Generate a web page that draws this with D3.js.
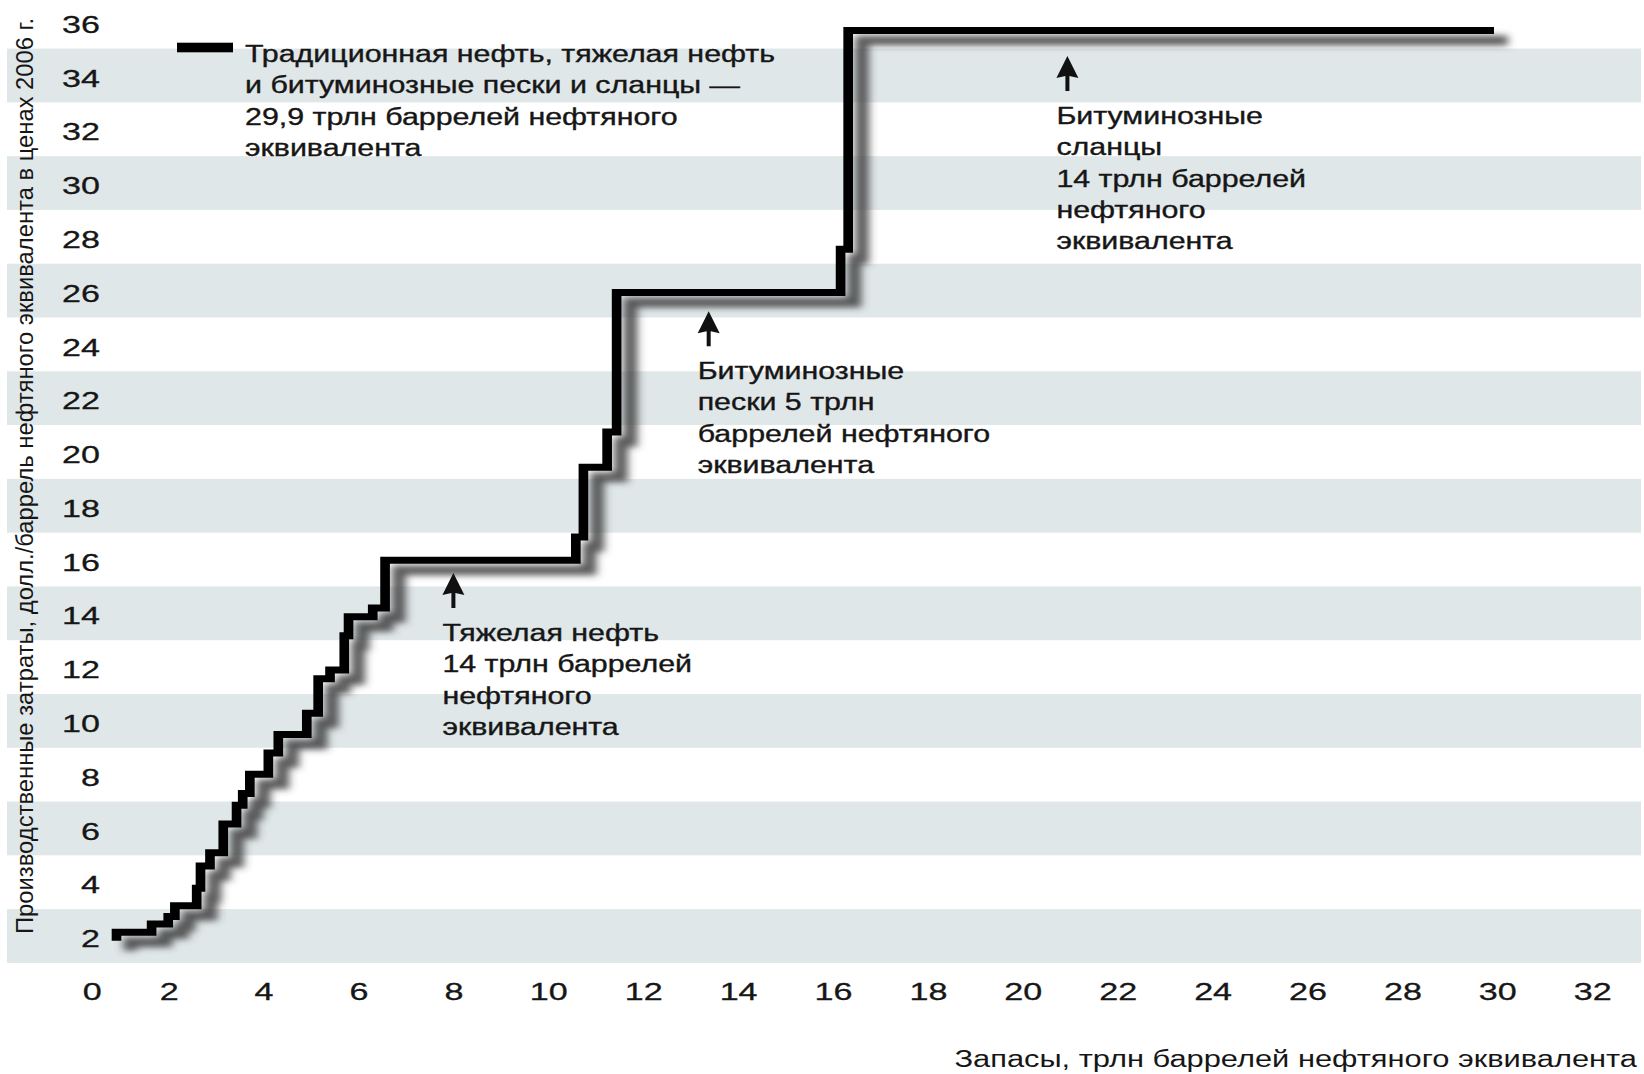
<!DOCTYPE html>
<html><head><meta charset="utf-8">
<script src="https://cdn.jsdelivr.net/npm/d3@7"></script>
<style>
html,body{margin:0;padding:0;background:#fff;}
svg{display:block;}
text{font-family:"Liberation Sans", Arial, Helvetica, sans-serif; fill:#161616;}
</style></head><body>
<svg id="chart" width="1644" height="1074"></svg>
<script>
// ---------- data ----------
const reserves = [0.90,0.90,1.64,1.99,2.13,2.59,2.67,2.87,3.15,3.43,3.56,3.71,4.10,4.31,4.91,5.15,5.40,5.70,5.79,6.30,6.56,10.58,10.74,11.24,11.44,16.16,16.32,29.93];
const costs    = [1.90,2.21,2.52,2.80,3.20,3.85,4.68,5.17,6.24,6.94,7.37,8.09,8.88,9.57,10.36,11.64,11.97,13.24,13.95,14.27,16.05,16.91,19.51,20.82,26.00,27.61,35.75,35.75];
const xTicks = [0,2,4,6,8,10,12,14,16,18,20,22,24,26,28,30,32];
const yTicks = [2,4,6,8,10,12,14,16,18,20,22,24,26,28,30,32,34,36];
const bandCenters = [2,6,10,14,18,22,26,30,34];
const legendLines = ["Традиционная нефть, тяжелая нефть","и битуминозные пески и сланцы —","29,9 трлн баррелей нефтяного","эквивалента"];
const annoText = [
  ["Тяжелая нефть","14 трлн баррелей","нефтяного","эквивалента"],
  ["Битуминозные","пески 5 трлн","баррелей нефтяного","эквивалента"],
  ["Битуминозные","сланцы","14 трлн баррелей","нефтяного","эквивалента"]
];
const annoX = [8.0, 13.38, 20.94];
const annoY = [15.57, 25.31, 34.8];
const xTitle = "Запасы, трлн баррелей нефтяного эквивалента";
const yTitle = "Производственные затраты, долл./баррель нефтяного эквивалента в ценах 2006 г.";

// ---------- setup ----------
const SX = 1.38;      // horizontal stretch of the artwork (line)
const SX_TEXT = 1.32; // stretch of text lines
const SX_TICK = 1.42; // stretch of tick numbers
const svg = d3.select("#chart");
const x = d3.scaleLinear().domain([0,32]).range([73.8,1592.2]);
const y = d3.scaleLinear().domain([0,36]).range([991.8,23.7]);

function stretchBy(k){
  return sel => sel.each(function(){
    const w = this.getComputedTextLength();
    d3.select(this).attr("textLength", w*k).attr("lengthAdjust","spacingAndGlyphs");
  });
}

// bands
svg.append("g").selectAll("rect").data(bandCenters).join("rect")
  .attr("x",7).attr("width",1634)
  .attr("y",d=>y(d+1)-2).attr("height",d=>y(d-1)-y(d+1))
  .attr("fill","#e0e7e9");

// y axis
const gy = svg.append("g").attr("transform","translate(100,0)")
  .call(d3.axisLeft(y).tickValues(yTicks).tickSize(0).tickPadding(0));
gy.select(".domain").remove();
gy.selectAll("text").attr("font-size",24).attr("font-family",null).attr("fill","#161616")
  .attr("stroke","#161616").attr("stroke-width",0.3).attr("dy","0.36em").call(stretchBy(SX_TICK));

// x axis
const gx = svg.append("g").attr("transform",`translate(0,${y(0)})`)
  .call(d3.axisBottom(x).tickValues(xTicks).tickSize(0).tickPadding(0));
gx.select(".domain").remove();
gx.selectAll("text").attr("font-size",24).attr("font-family",null).attr("fill","#161616")
  .attr("stroke","#161616").attr("stroke-width",0.3).attr("dy","0.36em")
  .attr("dx",d=>d===0?18:0).call(stretchBy(SX_TICK));

// titles
svg.append("text").attr("transform","translate(33,476) rotate(-90)")
  .attr("text-anchor","middle").attr("font-size",23)
  .attr("textLength",916).attr("lengthAdjust","spacingAndGlyphs").text(yTitle);
svg.append("text").attr("x",1637).attr("y",1067).attr("text-anchor","end")
  .attr("font-size",23).text(xTitle).call(stretchBy(1.34));

// shadow filter
const defs = svg.append("defs");
const f = defs.append("filter").attr("id","blur")
  .attr("x","-5%").attr("y","-5%").attr("width","110%").attr("height","110%");
f.append("feGaussianBlur").attr("stdDeviation",3.2);

// step line
const pts = reserves.map((r,i)=>[r,costs[i]]);
const line = d3.line().x(d=>x(d[0])/SX).y(d=>y(d[1])).curve(d3.curveStepAfter);
const gl = svg.append("g").attr("transform",`scale(${SX},1)`);
gl.append("path").attr("d",line(pts)).attr("transform","translate(10,10)")
  .attr("fill","none").attr("stroke","#404040").attr("stroke-opacity",0.85)
  .attr("stroke-width",10).attr("filter","url(#blur)");
gl.append("path").attr("d",line(pts))
  .attr("fill","none").attr("stroke","#000").attr("stroke-width",7)
  .attr("stroke-linejoin","miter");

// legend
svg.append("rect").attr("x",177).attr("y",42.7).attr("width",56).attr("height",9.6).attr("fill","#000");
svg.append("g").selectAll("text").data(legendLines).join("text")
  .attr("x",245).attr("y",(d,i)=>62+i*31.3).attr("font-size",23)
  .attr("stroke","#161616").attr("stroke-width",0.35)
  .text(d=>d).call(stretchBy(SX_TEXT));

// annotations
annoText.forEach((lines,k)=>{
  const ax = x(annoX[k]), ty = y(annoY[k]);
  const g = svg.append("g");
  g.append("path")
    .attr("d",`M${ax},${ty} L${ax+11},${ty+22} L${ax+2},${ty+20} L${ax+2},${ty+35} L${ax-2},${ty+35} L${ax-2},${ty+20} L${ax-11},${ty+22} Z`)
    .attr("fill","#111");
  g.selectAll("text").data(lines).join("text")
    .attr("x",ax-11).attr("y",(d,i)=>ty+68+i*31.3)
    .attr("font-size",23).attr("stroke","#161616").attr("stroke-width",0.35)
    .text(d=>d).call(stretchBy(SX_TEXT));
});
</script>
</body></html>
